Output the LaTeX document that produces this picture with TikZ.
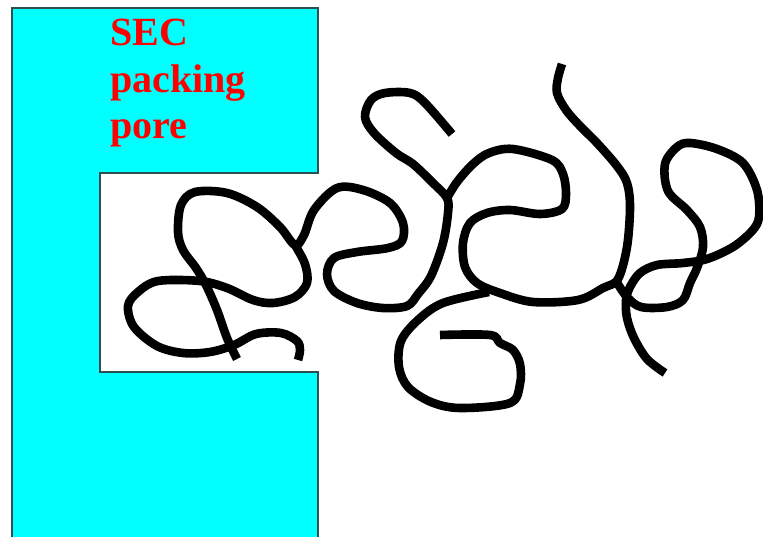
\documentclass[tikz,border=0pt]{standalone}
\usepackage{fontspec}
\setmainfont{Liberation Serif}
\usepackage{xcolor}
\definecolor{porecyan}{HTML}{00FFFF}
\definecolor{poreedge}{HTML}{2F4F4F}

\begin{document}
\begin{tikzpicture}[x=1pt,y=-1pt]
		\tikzset{chain/.style = {draw=black, line width=8.6pt, line join=round}}
		\tikzset{label/.style = {anchor=base west, inner sep=0pt, text=red, font=\fontsize{40}{46}\selectfont\bfseries}}
		\useasboundingbox (0,0) rectangle (763,537);
		%packing with its pore
		\fill[porecyan] (12,8) -- (318,8) -- (318,173) -- (100,173) -- (100,372) -- (318,372) -- (318,537) -- (12,537) -- cycle;
		\draw[poreedge, line width=1.2pt] (12,537) -- (12,8) -- (318,8) -- (318,173) -- (100,173) -- (100,372) -- (318,372) -- (318,537);
		\node[label] (sec) at (110,46) {SEC};
		\node[label] (packing) at (110,93) {packing};
		\node[label] (pore) at (110,139) {pore};
		%polymer chain
		\draw[chain] plot[smooth, tension=0.55] coordinates {(237,359) (227,338) (217,310) (206,285) (196,268) (183,250) (178,232) (181,205) (195,192) (227,193) (257,207) (280,227) (295,245) (304,235) (314,210) (337,188) (363,190) (390,203) (403,223) (402,241) (388,248) (357,252) (334,258) (327,274) (334,291) (357,303) (383,308) (407,306) (418,294) (431,276) (443,243) (448,213) (447,198) (433,183) (413,164) (396,153) (374,133) (365,117) (371,100) (385,93) (410,93) (425,103) (452,134)};
		\draw[chain] plot[smooth, tension=0.55] coordinates {(295,245) (305,264) (307,283) (295,297) (273,303) (253,300) (227,288) (200,281) (158,281) (138,292) (128,306) (134,327) (157,346) (183,353) (210,352) (234,345) (256,334) (281,333) (297,341) (300,350) (298,360)};
		\draw[chain] plot[smooth, tension=0.55] coordinates {(447,198) (457,182) (473,164) (489,153) (513,149) (552,160) (563,174) (566,194) (562,209) (540,214) (510,210) (487,213) (470,223) (463,243) (465,267) (477,283) (500,293) (533,302) (578,300) (603,288) (618,279) (627,247) (630,207) (627,183) (617,166) (597,143) (580,126) (566,110) (557,93) (558,78) (562,64)};
		\draw[chain] plot[smooth, tension=0.55] coordinates {(489,292) (443,303) (418,320) (401,341) (399,367) (408,387) (431,402) (460,408) (510,403) (520,384) (520,364) (513,350) (500,343) (490,335) (440,335)};
		\draw[chain] plot[smooth, tension=0.55] coordinates {(616,281) (627,297) (641,307) (667,307) (683,300) (690,283) (697,268) (703,247) (700,227) (687,210) (668,191) (665,164) (677,147) (690,143) (717,149) (743,163) (757,190) (759,217) (752,231) (733,247) (707,259) (683,263) (657,265) (640,273) (630,287) (626,300) (627,318) (634,338) (647,359) (665,373)};
\end{tikzpicture}
\end{document}
